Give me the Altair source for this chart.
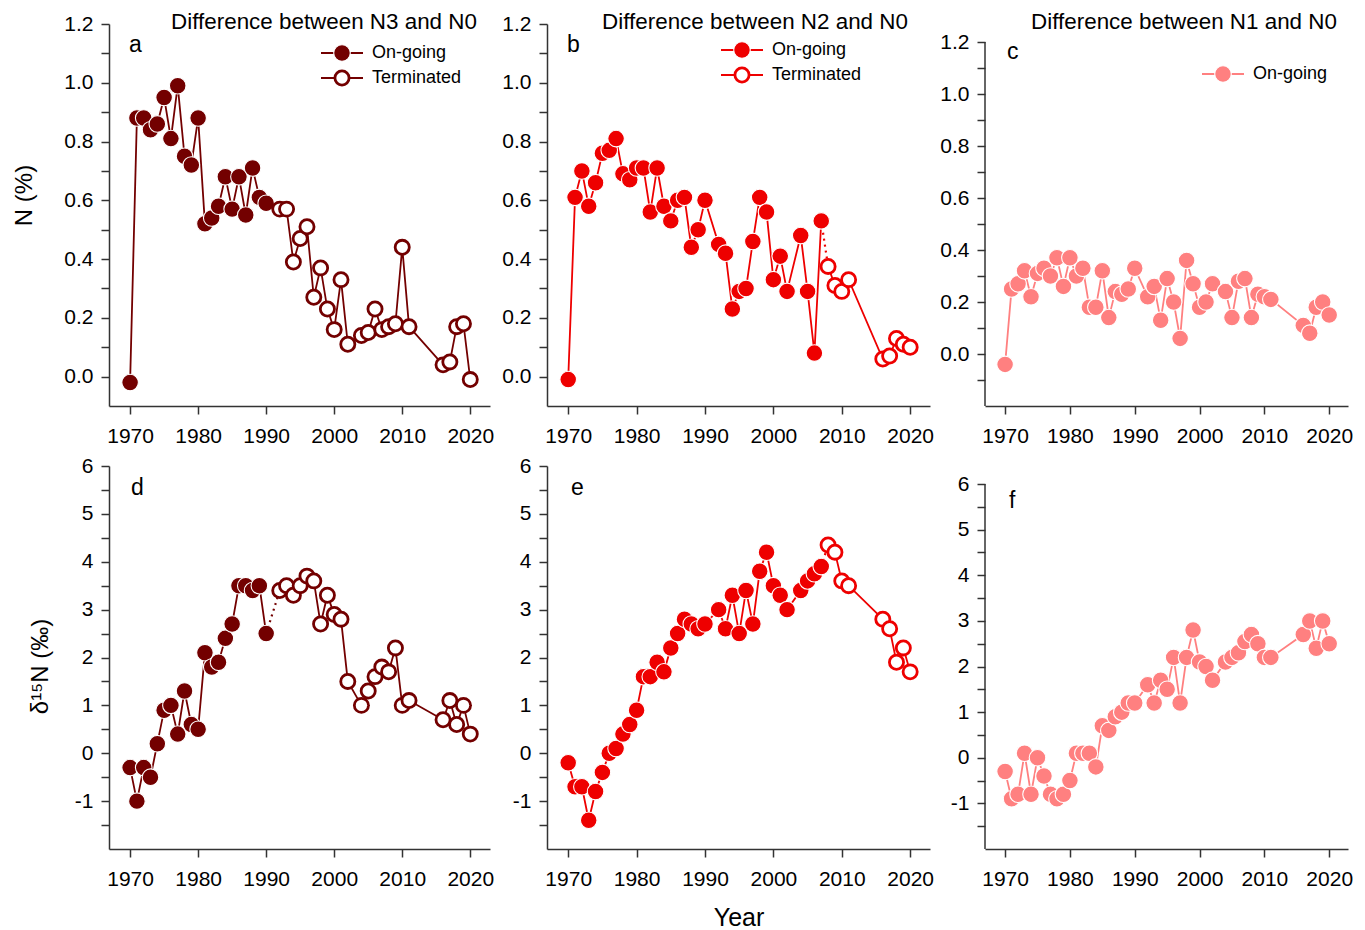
import altair as alt
import pandas as pd

# Sampling years (no samples in 1991, 2003 and 2012-2015)
years = [1970, 1971, 1972, 1973, 1974, 1975, 1976, 1977, 1978, 1979, 1980,
         1981, 1982, 1983, 1984, 1985, 1986, 1987, 1988, 1989, 1990,
         1992, 1993, 1994, 1995, 1996, 1997, 1998, 1999, 2000, 2001, 2002,
         2004, 2005, 2006, 2007, 2008, 2009, 2010, 2011,
         2016, 2017, 2018, 2019, 2020]

# Difference in N (%) relative to N0
n3_n = [-0.02, 0.88, 0.88, 0.84, 0.86, 0.95, 0.81, 0.99, 0.75, 0.72, 0.88,
        0.52, 0.54, 0.58, 0.68, 0.57, 0.68, 0.55, 0.71, 0.61, 0.59,
        0.57, 0.57, 0.39, 0.47, 0.51, 0.27, 0.37, 0.23, 0.16, 0.33, 0.11,
        0.14, 0.15, 0.23, 0.16, 0.17, 0.18, 0.44, 0.17,
        0.04, 0.05, 0.17, 0.18, -0.01]
n2_n = [-0.01, 0.61, 0.70, 0.58, 0.66, 0.76, 0.77, 0.81, 0.69, 0.67, 0.71,
        0.71, 0.56, 0.71, 0.58, 0.53, 0.60, 0.61, 0.44, 0.50, 0.60,
        0.45, 0.42, 0.23, 0.29, 0.30, 0.46, 0.61, 0.56, 0.33, 0.41, 0.29,
        0.48, 0.29, 0.08, 0.53, 0.375, 0.31, 0.29, 0.33,
        0.06, 0.07, 0.13, 0.11, 0.10]
n1_n = [-0.04, 0.25, 0.27, 0.32, 0.22, 0.31, 0.33, 0.30, 0.37, 0.26, 0.37,
        0.30, 0.33, 0.18, 0.18, 0.32, 0.14, 0.24, 0.23, 0.25, 0.33,
        0.22, 0.26, 0.13, 0.29, 0.20, 0.06, 0.36, 0.27, 0.18, 0.20, 0.27,
        0.24, 0.14, 0.28, 0.29, 0.14, 0.23, 0.22, 0.21,
        0.11, 0.08, 0.18, 0.20, 0.15]

# Difference in delta 15N (per mil) relative to N0
n3_d15 = [-0.3, -1.0, -0.3, -0.5, 0.2, 0.9, 1.0, 0.4, 1.3, 0.6, 0.5,
          2.1, 1.8, 1.9, 2.4, 2.7, 3.5, 3.5, 3.4, 3.5, 2.5,
          3.4, 3.5, 3.3, 3.5, 3.7, 3.6, 2.7, 3.3, 2.9, 2.8, 1.5,
          1.0, 1.3, 1.6, 1.8, 1.7, 2.2, 1.0, 1.1,
          0.7, 1.1, 0.6, 1.0, 0.4]
n2_d15 = [-0.2, -0.7, -0.7, -1.4, -0.8, -0.4, 0.0, 0.1, 0.4, 0.6, 0.9,
          1.6, 1.6, 1.9, 1.7, 2.2, 2.5, 2.8, 2.7, 2.6, 2.7,
          3.0, 2.6, 3.3, 2.5, 3.4, 2.7, 3.8, 4.2, 3.5, 3.3, 3.0,
          3.4, 3.6, 3.75, 3.9, 4.35, 4.2, 3.6, 3.5,
          2.8, 2.6, 1.9, 2.2, 1.7]
n1_d15 = [-0.3, -0.9, -0.8, 0.1, -0.8, 0.0, -0.4, -0.8, -0.9, -0.8, -0.5,
          0.1, 0.1, 0.1, -0.2, 0.7, 0.6, 0.9, 1.0, 1.2, 1.2,
          1.6, 1.2, 1.7, 1.5, 2.2, 1.2, 2.2, 2.8, 2.1, 2.0, 1.7,
          2.1, 2.2, 2.3, 2.55, 2.7, 2.5, 2.2, 2.2,
          2.7, 3.0, 2.4, 3.0, 2.5]

# Last year in which each treatment was still on-going
last_ongoing = {"N3": 1990, "N2": 2007, "N1": 2020}

DARK = "#730000"
RED = "#EE0000"
PINK = "#FF8080"
FONT = "Liberation Sans"
X_DOMAIN = [1966.9, 2022.9]
YEAR_TICKS = [1970, 1980, 1990, 2000, 2010, 2020]

N_TICKS = [round(-0.1 + 0.1 * i, 1) for i in range(14)]
D_TICKS = [-1.5 + 0.5 * i for i in range(16)]
N_LABELS = "abs(round(datum.value * 10)) % 2 == 0 ? format(datum.value, '.1f') : ''"
D_LABELS = ("datum.value % 1 == 0 ? (datum.value < 0 ? '-' + format(-datum.value, 'd') "
            ": format(datum.value, 'd')) : ''")

FILLED = dict(shape="circle", filled=True, size=275, strokeWidth=1.1,
              stroke="white", opacity=1)
OPEN = dict(shape="circle", filled=True, fill="white", size=200,
            strokeWidth=2.8, opacity=1)


def text_layer(txt, x, y, size, align="center"):
    return alt.Chart(pd.DataFrame({"t": [txt]})).mark_text(
        font=FONT, fontSize=size, align=align, baseline="middle", color="black"
    ).encode(x=alt.value(x), y=alt.value(y), text="t:N")


def legend_row(label, open_marker, color, lx, ly):
    src = pd.DataFrame({"label": [label]})
    base = alt.Chart(src)
    rule = base.mark_rule(color=color, strokeWidth=1.8).encode(
        x=alt.value(lx - 21), x2=alt.value(lx + 21), y=alt.value(ly))
    style = dict(OPEN, stroke=color) if open_marker else dict(FILLED, fill=color)
    pt = base.mark_point(**style).encode(x=alt.value(lx), y=alt.value(ly))
    txt = base.mark_text(font=FONT, fontSize=18, align="left", baseline="middle",
                         color="black").encode(
        x=alt.value(lx + 30), y=alt.value(ly), text="label:N")
    return [rule, pt, txt]


def panel(values, key, color, width, height, y_domain, ticks, label_expr,
          letter, letter_xy, y_title=None, y_title_pos=None, y_title_pad=20,
          x_title=None, title=None, title_x=0, legend_xy=None, axis_span=None):
    df = pd.DataFrame({"year": years, "value": values})
    df["status"] = ["On-going" if y <= last_ongoing[key] else "Terminated"
                    for y in years]
    on = df[df["status"] == "On-going"]
    off = df[df["status"] == "Terminated"]

    x = alt.X("year:Q", scale=alt.Scale(domain=X_DOMAIN, nice=False, zero=False),
              axis=alt.Axis(values=YEAR_TICKS, format="d", title=x_title,
                            titleFontSize=25, titlePadding=16, titleFontWeight="normal"))
    y_axis_opts = dict(values=ticks, labelExpr=label_expr, title=y_title,
                       domain=axis_span is None, titleFontSize=24,
                       titlePadding=y_title_pad, titleFontWeight="normal")
    if y_title_pos is not None:
        y_axis_opts["titleY"] = y_title_pos
    y = alt.Y("value:Q", scale=alt.Scale(domain=y_domain, nice=False, zero=False),
              axis=alt.Axis(**y_axis_opts))

    layers = [alt.Chart(on).mark_line(color=color, strokeWidth=1.8).encode(x=x, y=y)]
    if len(off):
        bridge = pd.concat([on.tail(1), off.head(1)])
        layers.append(alt.Chart(bridge).mark_line(
            color=color, strokeWidth=2.2, strokeDash=[2, 4]).encode(x=x, y=y))
        layers.append(alt.Chart(off).mark_line(color=color, strokeWidth=1.8).encode(x=x, y=y))
    layers.append(alt.Chart(on).mark_point(fill=color, **FILLED).encode(x=x, y=y))
    if len(off):
        layers.append(alt.Chart(off).mark_point(stroke=color, **OPEN).encode(x=x, y=y))

    if axis_span is not None:
        # left axis line only covers the labelled range
        span = pd.DataFrame({"value": [axis_span[0]], "value2": [axis_span[1]]})
        layers.append(alt.Chart(span).mark_rule(color="#333333", strokeWidth=1.5)
                      .encode(x=alt.value(0), y=y, y2="value2:Q"))

    layers.append(text_layer(letter, letter_xy[0], letter_xy[1], 23, "left"))
    if title:
        layers.append(text_layer(title, title_x, -2, 22.4))
    if legend_xy is not None:
        lx, ly = legend_xy
        layers += legend_row("On-going", False, color, lx, ly)
        if len(off):
            layers += legend_row("Terminated", True, color, lx, ly + 25)

    return alt.layer(*layers).properties(width=width, height=height)


W1, W2, W3 = 381, 383, 363
H = 382
H2 = 383

pa = panel(n3_n, "N3", DARK, W1, H, [-0.1, 1.2], N_TICKS[1:], N_LABELS, "a", (20, 21),
           y_title="N (%)", y_title_pos=171, y_title_pad=27,
           title="Difference between N3 and N0", title_x=215, legend_xy=(233, 29))
pb = panel(n2_n, "N2", RED, W2, H, [-0.1, 1.2], N_TICKS[1:], N_LABELS, "b", (20, 21),
           title="Difference between N2 and N0", title_x=208, legend_xy=(195, 26))
pc = panel(n1_n, "N1", PINK, W3, H, [-0.2, 1.2 + 18 / 260], N_TICKS, N_LABELS, "c", (22, 28),
           title="Difference between N1 and N0", title_x=199, legend_xy=(238, 50),
           axis_span=(-0.2, 1.2))
pd_ = panel(n3_d15, "N3", DARK, W1, H2, [-2, 6], D_TICKS, D_LABELS, "d", (22, 22),
            y_title="δ¹⁵N (‰)", y_title_pos=200, y_title_pad=22)
pe = panel(n2_d15, "N2", RED, W2, H2, [-2, 6], D_TICKS, D_LABELS, "e", (24, 22),
           x_title="Year")
pf = panel(n1_d15, "N1", PINK, W3, H2, [-2, 6 + 18 / 45.5], D_TICKS, D_LABELS, "f", (24, 35),
           axis_span=(-2, 6))

chart = alt.concat(pa, pb, pc, pd_, pe, pf, columns=3,
                   spacing={"row": 59, "column": 55}, bounds="flush", align="all"
                   ).properties(
    padding={"left": 12, "top": 11, "right": 5, "bottom": 5}
).configure_view(stroke=None).configure_axis(
    grid=False, domainColor="#333333", domainWidth=1.5, tickColor="#333333",
    tickWidth=1.5, tickSize=8, labelFont=FONT, labelFontSize=21, labelColor="black",
    labelPadding=11, labelOverlap=False, titleFont=FONT, titleColor="black"
).configure_axisY(labelPadding=8)

chart.save("out.html", embed_options={"renderer": "svg", "actions": False})
